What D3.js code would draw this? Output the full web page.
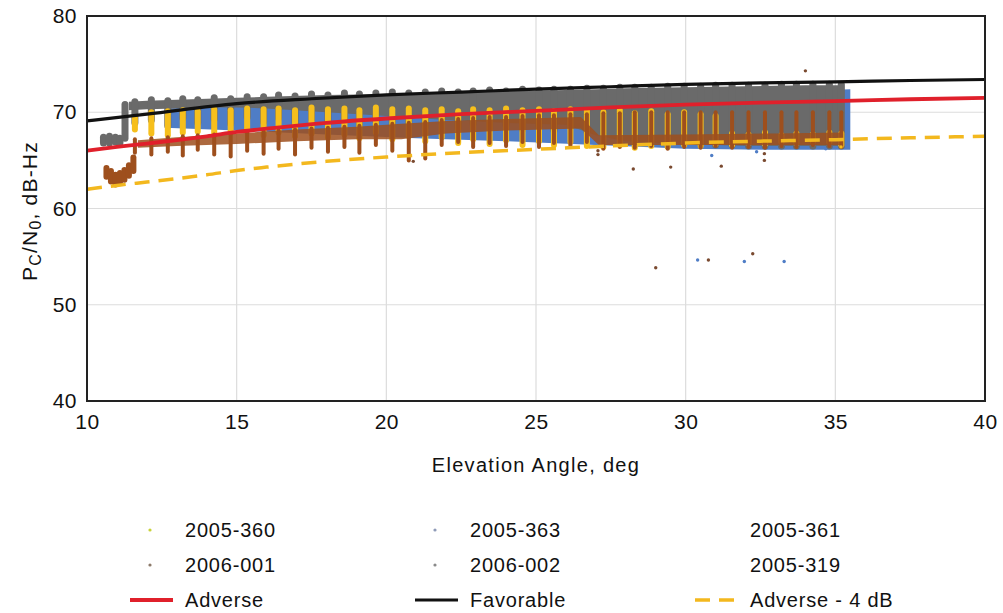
<!DOCTYPE html>
<html>
<head>
<meta charset="utf-8">
<script src="https://cdn.jsdelivr.net/npm/d3@7"></script>
<style>
  body { margin: 0; background: #fff; }
  text { font-family: "Liberation Sans", Arial, Helvetica, sans-serif; fill: #111; }
</style>
</head>
<body>
<div id="chart"></div>
<script>
// axis ticks
const elevTicks = [10, 15, 20, 25, 30, 35, 40]
const cnoTicks = [40, 50, 60, 70, 80]

// model curves [elevation, dB-Hz]
const adverse = [[10,66.0],[11,66.4],[12,66.75],[13,67.1],[14,67.5],[15,67.95],[16,68.3],[18,68.9],[20,69.35],[22.5,69.8],[25,70.15],[27.5,70.5],[30,70.8],[32.5,71.0],[35,71.15],[37.5,71.35],[40,71.5]]
const favorable = [[10,69.1],[12,69.8],[15,70.9],[17.5,71.4],[20,71.8],[22.5,72.1],[25,72.4],[27.5,72.65],[30,72.9],[32.5,73.05],[35,73.15],[37.5,73.3],[40,73.4]]
const adverseMinus4 = [[10,62.0],[11,62.4],[12,62.75],[13,63.1],[14,63.5],[15,63.95],[16,64.3],[18,64.9],[20,65.35],[22.5,65.8],[25,66.15],[27.5,66.5],[30,66.8],[32.5,67.0],[35,67.15],[37.5,67.35],[40,67.5]]

// measured passes: elevation of each fade streak
const passElev = [11.6,12.15,12.7,13.2,13.7,14.25,14.8,15.35,15.9,16.4,16.95,17.5,18.05,18.6,19.1,19.65,20.2,20.75,21.3,21.85,22.4,22.9,23.45,24.0,24.55,25.1,25.6,26.15,26.7,27.25,27.8,28.3,28.85,29.4,29.95,30.5,31.0,31.55,32.1,32.65,33.2,33.7,34.25,34.8,35.2]

// 2005-360
const yellowHi = [69.4,70.0,70.1,70.2,70.1,70.3,70.2,70.4,70.3,70.4,70.2,70.5,70.3,70.4,70.2,70.5,70.3,70.4,70.2,70.3,70.1,70.3,70.2,70.4,70.2,70.3,70.1,70.3,70.2,70.0,70.2,69.9,70.1,69.8,70.0,69.8,69.6,67.8,67.7,67.9,67.6,67.8,67.7,67.9,67.8]
const yellowLo = [68.2,67.8,67.6,67.9,68.0,67.7,67.9,68.1,67.6,67.9,67.5,67.8,67.4,67.7,67.3,67.9,67.2,67.5,67.0,67.4,66.8,67.2,66.7,67.1,66.6,67.0,66.6,66.9,66.5,66.4,66.6,66.3,66.5,66.4,66.6,66.5,66.7,66.6,66.8,66.7,66.9,66.8,67.0,66.9,66.6]
const yellowDots = [[35.19,66.4]]

// 2005-363
const blueBand = [[12.6,68.4,70.4],[15,68.1,70.7],[18,67.7,71.0],[21,67.3,71.2],[24,67.0,71.4],[27,66.6,71.6],[30,66.2,71.9],[33,66.1,72.1],[35.5,66.1,72.4]]
const blueDots = [[30.4,54.65],[31.96,54.5],[33.29,54.5],[30.87,65.5],[32.37,65.9],[34.68,66.2]]

// 2006-001
const brownBand = [[11.7,66.3,67.1],[13,66.5,67.4],[15,66.7,67.8],[17,67.0,68.2],[19,67.2,68.5],[20.5,67.2,68.8],[22,67.8,69.1],[24,68.1,69.3],[26.5,68.3,69.5],[27.1,66.6,67.6],[30,66.6,67.7],[33,66.6,67.8],[35.2,66.6,67.9]]
const brownStart = [[10.65,63.3,64.2],[10.8,62.8,63.9],[10.95,62.5,63.5],[11.1,62.7,63.7],[11.25,63.0,64.0],[11.4,63.4,64.5],[11.55,63.9,65.3]]
const brownHi = [67.2,67.3,67.4,67.5,67.6,67.7,67.8,67.9,68.0,68.1,68.2,68.3,68.4,68.5,68.6,68.7,68.8,68.9,69.0,69.2,69.3,69.4,69.5,69.5,69.6,69.7,69.7,69.8,69.8,69.9,69.9,70.0,70.0,70.0,70.0,70.0,70.0,70.0,70.0,70.0,70.0,70.0,70.0,70.0,70.0]
const brownLo = [65.8,65.6,65.9,65.5,66.1,65.6,65.4,66.0,65.7,66.2,65.6,66.3,65.9,66.4,65.8,66.6,66.0,65.0,65.2,66.6,66.9,66.4,66.8,66.5,66.9,66.4,66.8,66.5,66.9,66.2,66.4,66.3,66.5,66.2,66.4,66.3,66.5,66.3,66.4,66.3,66.5,66.4,66.6,66.5,66.4]
const brownDots = [[34.0,74.3],[29.0,53.85],[30.76,54.65],[32.24,55.3],[28.25,64.1],[29.5,64.3],[31.19,64.4],[32.63,65.7],[32.63,65.0],[27.07,66.0],[27.07,65.6],[20.9,64.9]]

// 2006-002
const grayBand = [[11.4,70.2,71.1],[12,70.3,71.2],[13,70.4,71.3],[14,70.5,71.4],[15,70.5,71.5],[16,70.4,71.6],[18,70.0,71.8],[20,69.6,71.9],[22,69.2,72.0],[24,68.9,72.2],[26,68.7,72.3],[27,67.6,72.4],[28,67.0,72.5],[30,66.7,72.6],[32,66.5,72.7],[34,66.5,72.8],[35.3,66.5,72.8]]
const grayStart = [[10.55,66.8,67.4],[10.75,66.8,67.5],[10.95,66.9,67.4],[11.1,66.8,67.3],[11.27,67.3,70.8]]
const grayHi = [71.1,71.3,71.2,71.4,71.3,71.5,71.4,71.6,71.6,71.8,71.7,71.9,71.8,72.0,71.9,72.0,72.1,72.0,72.1,72.2,72.1,72.2,72.3,72.2,72.4,72.3,72.4,72.4,72.5,72.5,72.6,72.6,72.6,72.7,72.7,72.7,72.8,72.8,72.8,72.8,72.9,72.9,72.9,72.9,72.9]
const grayLo = [68.9,69.2,68.6,69.4,68.9,69.3,68.8,69.5,69.0,69.4,68.9,69.3,68.8,69.2,68.7,69.1,68.6,69.0,68.5,68.9,68.4,68.8,68.3,68.7,68.2,68.6,68.1,68.5,68.0,67.8,67.5,67.3,67.1,66.9,66.8,66.7,66.6,66.6,66.5,66.5,66.5,66.5,66.5,66.5,66.5]

// legend
const legendSeries = ['2005-360', '2005-363', '2005-361', '2006-001', '2006-002', '2005-319']
const legendLines = ['Adverse', 'Favorable', 'Adverse - 4 dB']

const width = 1003, height = 613
const plot = { left: 87, right: 985, top: 16, bottom: 401 }
const fontStack = '"Liberation Sans", Arial, Helvetica, sans-serif'

const colors = {
  yellow: '#f6bf1c', blue: '#4f7dc6', brown: '#9e4f1d', gray: '#6a6a6a',
  red: '#e0202b', black: '#111111', dash: '#f3b81e'
}

const svg = d3.select('#chart')
  .append('svg')
  .attr('width', width)
  .attr('height', height)

const x = d3.scaleLinear().domain([10, 40]).range([plot.left, plot.right])
const y = d3.scaleLinear().domain([40, 80]).range([plot.bottom, plot.top])

// grid
svg.append('g')
  .selectAll('line')
  .data(elevTicks)
  .enter().append('line')
  .attr('x1', d => x(d)).attr('x2', d => x(d))
  .attr('y1', plot.top).attr('y2', plot.bottom)
  .attr('stroke', '#dcdcdc').attr('stroke-width', 1.2)

svg.append('g')
  .selectAll('line')
  .data(cnoTicks)
  .enter().append('line')
  .attr('x1', plot.left).attr('x2', plot.right)
  .attr('y1', d => y(d)).attr('y2', d => y(d))
  .attr('stroke', '#dcdcdc').attr('stroke-width', 1.2)

// data
const data = svg.append('g')

const band = d3.area()
  .x(d => x(d[0]))
  .y0(d => y(d[1]))
  .y1(d => y(d[2]))

function streaks(rows, color, w) {
  data.append('g')
    .selectAll('line')
    .data(rows)
    .enter().append('line')
    .attr('x1', d => x(d[0])).attr('x2', d => x(d[0]))
    .attr('y1', d => y(d[1])).attr('y2', d => y(d[2]))
    .attr('stroke', color)
    .attr('stroke-width', w)
    .attr('stroke-linecap', 'round')
}

function dots(rows, color) {
  data.append('g')
    .selectAll('circle')
    .data(rows)
    .enter().append('circle')
    .attr('cx', d => x(d[0]))
    .attr('cy', d => y(d[1]))
    .attr('r', 1.7)
    .attr('fill', color)
}

data.append('path').datum(blueBand).attr('d', band).attr('fill', colors.blue)
data.append('path').datum(grayBand).attr('d', band).attr('fill', colors.gray)
streaks(grayStart, colors.gray, 7)
streaks(passElev.map((e, i) => [e, grayLo[i], grayHi[i]]), colors.gray, 7)
streaks(passElev.map((e, i) => [e, yellowLo[i], yellowHi[i]]), colors.yellow, 6)
data.append('path').datum(brownBand).attr('d', band).attr('fill', colors.brown).attr('opacity', 0.85)
streaks(brownStart, colors.brown, 6)
streaks(passElev.map((e, i) => [e, brownLo[i], brownHi[i]]), colors.brown, 4)
dots(blueDots, colors.blue)
dots(brownDots, '#7a4a30')
dots(yellowDots, colors.yellow)

// model lines
const line = d3.line()
  .x(d => x(d[0]))
  .y(d => y(d[1]))
  .curve(d3.curveMonotoneX)

svg.append('path').datum(adverseMinus4).attr('d', line)
  .attr('fill', 'none').attr('stroke', colors.dash)
  .attr('stroke-width', 3.5).attr('stroke-dasharray', '15 9')
svg.append('path').datum(adverse).attr('d', line)
  .attr('fill', 'none').attr('stroke', colors.red).attr('stroke-width', 3.8)
svg.append('path').datum(favorable).attr('d', line)
  .attr('fill', 'none').attr('stroke', colors.black).attr('stroke-width', 3.2)

// frame
svg.append('rect')
  .attr('x', plot.left).attr('y', plot.top)
  .attr('width', plot.right - plot.left).attr('height', plot.bottom - plot.top)
  .attr('fill', 'none').attr('stroke', '#222').attr('stroke-width', 2)

// axes
const xAxis = svg.append('g')
  .attr('transform', 'translate(0,' + plot.bottom + ')')
  .call(d3.axisBottom(x).tickValues(elevTicks).tickSize(0).tickPadding(13))
xAxis.select('.domain').remove()
xAxis.selectAll('text')
  .attr('font-size', '21px').attr('letter-spacing', '0.5px')
  .style('font-family', fontStack).attr('fill', '#111')

const yAxis = svg.append('g')
  .attr('transform', 'translate(' + plot.left + ',0)')
  .call(d3.axisLeft(y).tickValues(cnoTicks).tickSize(0).tickPadding(10))
yAxis.select('.domain').remove()
yAxis.selectAll('text')
  .attr('font-size', '21px').attr('letter-spacing', '0.5px')
  .style('font-family', fontStack).attr('fill', '#111')

svg.append('text')
  .attr('x', 536)
  .attr('y', 472)
  .attr('text-anchor', 'middle')
  .attr('font-size', '20px')
  .attr('letter-spacing', '1.3px')
  .text('Elevation Angle, deg')

const yLabel = svg.append('text')
  .attr('transform', 'translate(37,281) rotate(-90)')
  .attr('text-anchor', 'start')
  .attr('font-size', '21px')
  .attr('letter-spacing', '1.2px')
yLabel.append('tspan').text('P')
yLabel.append('tspan').text('C').attr('font-size', '16px').attr('baseline-shift', '-28%')
yLabel.append('tspan').text('/N')
yLabel.append('tspan').text('0').attr('font-size', '16px').attr('baseline-shift', '-28%')
yLabel.append('tspan').text(', dB-Hz')

// legend
const legendColX = [185, 470, 750]
const legendRowY = [530, 565, 600]
const markerColors = ['#c8d23a', '#8f9bb8', 'none', '#8c7a6a', '#8a8a8a', 'none']

const legend = svg.append('g').attr('class', 'legend')

legendSeries.forEach((name, i) => {
  const cx = legendColX[i % 3], cy = legendRowY[Math.floor(i / 3)]
  if (markerColors[i] !== 'none') {
    legend.append('circle')
      .attr('cx', cx - 35).attr('cy', cy).attr('r', 1.6)
      .attr('fill', markerColors[i])
  }
  legend.append('text')
    .attr('x', cx).attr('y', cy).attr('dy', '0.35em')
    .attr('font-size', '20px').attr('letter-spacing', '0.8px')
    .text(name)
})

const lineStyles = [
  { color: colors.red, dash: null, w: 3.8 },
  { color: colors.black, dash: null, w: 3.2 },
  { color: colors.dash, dash: '15 9', w: 3.5 }
]
legendLines.forEach((name, i) => {
  const cx = legendColX[i], cy = legendRowY[2]
  legend.append('line')
    .attr('x1', cx - 55).attr('x2', cx - 12)
    .attr('y1', cy).attr('y2', cy)
    .attr('stroke', lineStyles[i].color)
    .attr('stroke-width', lineStyles[i].w)
    .attr('stroke-dasharray', lineStyles[i].dash)
  legend.append('text')
    .attr('x', cx).attr('y', cy).attr('dy', '0.35em')
    .attr('font-size', '20px').attr('letter-spacing', '0.8px')
    .text(name)
})
</script>
</body>
</html>
